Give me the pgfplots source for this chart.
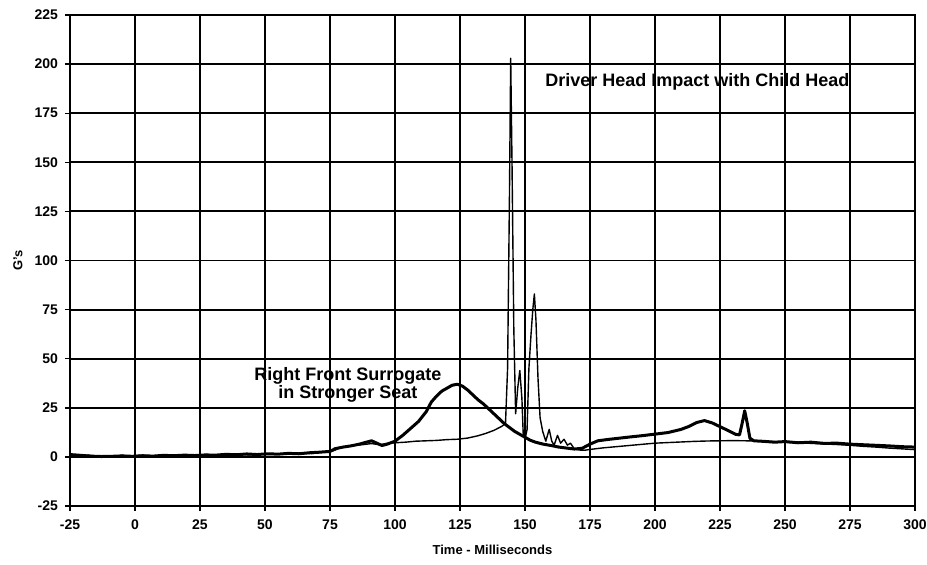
\documentclass[border=0pt]{standalone}
\usepackage{pgfplots}
\pgfplotsset{compat=1.18}
\usepackage{fontspec}
\setmainfont{Liberation Sans}

% driver head (thin trace with the impact spikes)
\pgfplotstableread{
t g
-25 0.8
-22 0.5
-18 0.9
-15 0.3
-12 0.6
-8 0.4
-5 0.8
-2 0.5
0 0.6
3 0.9
6 0.5
10 0.8
14 0.6
18 1.0
22 0.7
25 0.9
28 1.2
32 0.8
36 1.1
40 1.3
44 1.0
48 1.4
52 1.2
56 1.6
60 1.4
64 1.9
68 1.7
72 2.4
75 2.6
77 3.5
79 4.8
82 5.4
85 5.9
88 6.3
91 6.8
94 6.2
97 6.9
100 7.2
104 7.5
108 8.0
112 8.2
116 8.4
120 8.8
124 9.0
128 9.6
132 10.8
135 12.0
138 13.5
141 15.5
142.5 17
143.3 45
144 130
144.5 203
145 150
145.7 65
146.4 22
147.2 35
148 44
148.8 30
149.3 12
150 9
150.8 14
151.5 45
152.3 62
153 75
153.6 83
154.2 70
155 40
155.8 20
156.8 13
158 8
159.3 14
160.3 8
161.2 6
162.5 11
163.7 7
165 9
166.3 6
167.5 7
169 4
171 3.5
173 3.4
175 3.8
180 4.6
185 5.2
190 5.8
195 6.4
200 7.0
205 7.3
210 7.6
215 7.9
220 8.1
225 8.2
230 8.3
235 8.2
240 8.0
245 7.8
250 7.5
255 7.2
260 6.9
265 6.6
270 6.3
275 5.9
280 5.4
285 5.0
290 4.5
295 4.1
300 3.7
}\driver

% right front surrogate (thick trace)
\pgfplotstableread{
t g
-25 1.2
-21 0.8
-17 0.4
-13 0.2
-9 0.3
-5 0.5
-1 0.3
3 0.6
7 0.4
11 0.8
15 0.6
19 0.9
23 0.7
27 1.0
31 0.9
35 1.3
39 1.1
43 1.5
47 1.2
51 1.6
55 1.4
59 1.8
63 1.6
67 2.1
71 2.4
75 2.8
77 4.2
80 5.0
83 5.6
86 6.4
89 7.5
91 8.2
93 7.0
95 5.8
97 6.5
100 8.0
103 11
106 14.5
109 18
112 23
114 28
116 31
118 33.5
120 35
122 36.5
124 37
126 36
128 34
130 31.5
132 29
134 27
136 24.5
138 22
140 19.5
142 17
144 15
146 13
148 11.5
150 10
152 8.5
154 7.5
157 6.5
160 5.8
163 5.0
166 4.5
169 4.0
172 4.4
175 6.5
178 8.2
182 8.9
186 9.5
190 10.1
195 10.8
200 11.6
205 12.4
210 14
213 15.5
216 17.5
219 18.5
222 17.3
225 15.4
228 13.5
231 11.5
232.5 11.2
233.5 17
234.5 23.5
235.5 17
236.5 9.5
238 8.2
242 7.9
246 7.5
250 7.8
255 7.2
260 7.5
265 6.9
270 7.0
275 6.5
280 6.2
285 5.9
290 5.6
295 5.2
300 5.0
}\surrogate

\begin{document}
\begin{tikzpicture}
\path[use as bounding box] (-35pt,-29pt) rectangle (428.5pt,253pt);
\begin{axis}[
  scale only axis,
  width=422.5pt, height=245.5pt,
  xmin=-25, xmax=300, ymin=-25, ymax=225,
  xtick={-25,0,...,300}, ytick={-25,0,...,225},
  grid=major,
  grid style={black, line width=0.95pt},
  axis line style={black, line width=0.95pt},
  tick style={black, line width=0.7pt},
  tick align=outside, major tick length=2.5pt,
  xtick pos=bottom, ytick pos=left,
  ticklabel style={font=\fontsize{7}{8}\selectfont\bfseries},
  /pgf/number format/assume math mode=true,
  xlabel={Time - Milliseconds},
  xlabel style={font=\fontsize{6.5}{8}\selectfont\bfseries, at={(axis description cs:0.5,-0.0896)}, anchor=center},
  xticklabel style={yshift=-1pt},
  clip=true,
]
\addplot[black, line width=0.7pt, line join=round] table[x=t, y=g] {\driver};
\addplot[black, line width=1.5pt, line join=round] table[x=t, y=g] {\surrogate};
\node[font=\fontsize{9}{10}\selectfont\bfseries] at (axis cs:216.3,190.9) {Driver Head Impact with Child Head};
\node[font=\fontsize{9}{10}\selectfont\bfseries, align=center, inner sep=0pt] at (axis cs:81.9,36.6) {Right Front Surrogate\\[-1pt]in Stronger Seat};
\end{axis}
\node[font=\fontsize{6.5}{8}\selectfont\bfseries, rotate=90] at (-26pt,122.75pt) {G's};
\end{tikzpicture}
\end{document}
